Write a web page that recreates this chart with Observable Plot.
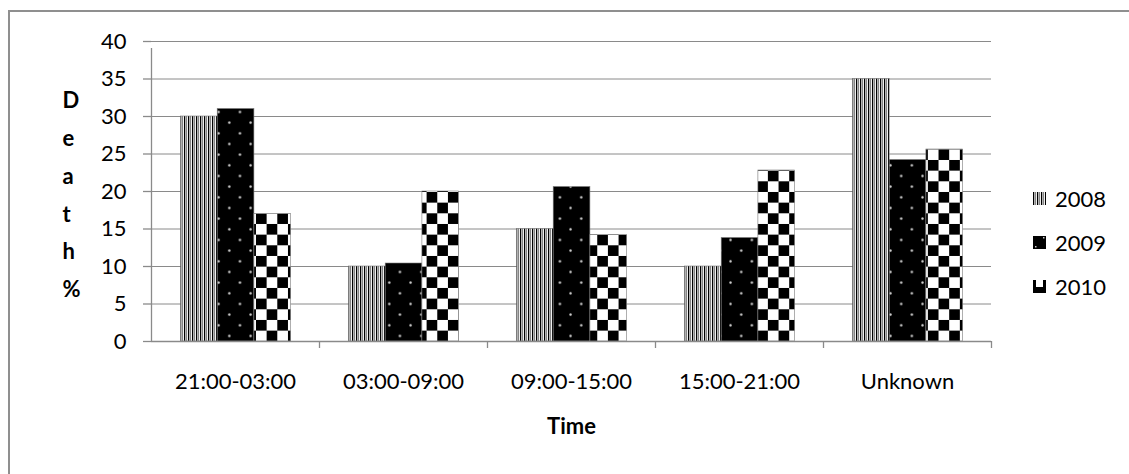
<!DOCTYPE html>
<html>
<head>
<meta charset="utf-8">
<script src="https://cdn.jsdelivr.net/npm/d3@7"></script>
<script src="https://cdn.jsdelivr.net/npm/@observablehq/plot@0.6"></script>
<style>
  html, body { margin: 0; padding: 0; background: #fff; overflow: hidden; }
  #wrap { position: relative; width: 1129px; height: 474px; overflow: hidden; font-family: Lato, "Open Sans", sans-serif; }
  #border { position: absolute; left: 8px; top: 10px; width: 1300px; height: 600px; border-left: 2.5px solid #8f8f8f; border-top: 2px solid #8f8f8f; box-sizing: border-box; }
  #chart { position: absolute; left: 0; top: 0; }
  #legend { position: absolute; left: 1033px; top: 176px; font-size: 22px; color: #000; }
  #legend .item { height: 44px; display: flex; align-items: center; }
  #legend svg { margin-right: 9px; }
</style>
</head>
<body>
<div id="wrap">
  <div id="border"></div>
  <div id="chart"></div>
  <div id="legend"></div>
</div>
<script>
const categories = ["21:00-03:00", "03:00-09:00", "09:00-15:00", "15:00-21:00", "Unknown"];
const years = ["2008", "2009", "2010"];
const v2008 = [30, 10, 15, 10, 35];
const v2009 = [31, 10.4, 20.6, 13.8, 24.2];
const v2010 = [17, 20, 14.2, 22.8, 25.6];
const yTicks = [0, 5, 10, 15, 20, 25, 30, 35, 40];
const yLabel = "Death %";
const xLabel = "Time";

const seriesValues = [v2008, v2009, v2010];
const rows = categories.flatMap((c, i) => years.map((y, j) => ({time: c, year: y, value: seriesValues[j][i]})));
const fills = years.map(y => `url(#p${y})`);

const bw = 36.7, step = 168, start = 29.5;
const barMarks = years.map((y, j) => Plot.barY(rows.filter(d => d.year === y), {
  x: "time", y: "value", fill: "year",
  insetLeft: start + j * bw, insetRight: step - start - (j + 1) * bw,
  stroke: "#7a7a7a", strokeWidth: 0.6
}));

const grid = "#8a8a8a";
const font = "Lato, 'Open Sans', sans-serif";
const svg = Plot.plot({
  width: 1129, height: 474,
  marginLeft: 151, marginRight: 138, marginTop: 41, marginBottom: 133,
  style: {fontFamily: font, fontSize: "22px", color: "#000", background: "transparent"},
  x: {type: "band", domain: categories, padding: 0, label: null},
  y: {domain: [0, 40], ticks: yTicks, label: null},
  color: {type: "ordinal", domain: years, range: fills, legend: false},
  marks: [
    Plot.gridY(yTicks, {stroke: grid, strokeOpacity: 1, strokeWidth: 1}),
    ...barMarks,
    Plot.ruleY([0], {stroke: grid, strokeWidth: 1.3}),
    Plot.ruleX([categories[0]], {x: d => d, y1: 0, y2: 40, dx: -step / 2, insetBottom: -7, stroke: grid, strokeWidth: 1.3}),
    Plot.ruleX(categories, {x: d => d, y1: 0, y2: 0, dx: step / 2, insetBottom: -7, stroke: grid, strokeWidth: 1.3}),
    Plot.axisY(yTicks, {tickSize: 8, tickPadding: 17, stroke: grid, strokeWidth: 1.3, fontSize: 22, fill: "#000"}),
    Plot.axisX({tickSize: 0, tickPadding: 32, fontSize: 22, fill: "#000", label: null}),
    Plot.text([yLabel.split("").filter(c => c !== " ").join("\n")], {frameAnchor: "left", dx: -89, dy: -1, lineHeight: 1.72, fontWeight: "bold", fontSize: 22, fill: "#000"}),
    Plot.text([xLabel], {frameAnchor: "bottom", dy: 92, fontWeight: "bold", fontSize: 22, fill: "#000"})
  ]
});

const NS = "http://www.w3.org/2000/svg";
const defsMarkup = `
<pattern id="p2008" patternUnits="userSpaceOnUse" width="4" height="4">
  <rect width="4" height="4" fill="#fff"/>
  <rect x="0" width="1.3" height="4" fill="#000"/>
  <rect x="2.2" width="0.9" height="4" fill="#666"/>
</pattern>
<pattern id="p2009" patternUnits="userSpaceOnUse" width="21.33" height="21.33">
  <rect width="21.33" height="21.33" fill="#000"/>
  <circle cx="5.33" cy="5.33" r="1.2" fill="#d8d8d8"/>
  <circle cx="16" cy="16" r="1.2" fill="#d8d8d8"/>
</pattern>
<pattern id="p2010" patternUnits="userSpaceOnUse" width="21.33" height="21.33">
  <rect width="21.33" height="21.33" fill="#fff"/>
  <rect x="0" y="0" width="10.67" height="10.67" fill="#000"/>
  <rect x="10.67" y="10.67" width="10.67" height="10.67" fill="#000"/>
</pattern>
<pattern id="s2010" patternUnits="userSpaceOnUse" width="13" height="13">
  <rect width="13" height="13" fill="#fff"/>
  <rect x="0" y="0" width="3" height="13" fill="#000"/>
  <rect x="10" y="0" width="3" height="13" fill="#000"/>
  <rect x="0" y="7" width="13" height="6" fill="#000"/>
</pattern>
<pattern id="s2009" patternUnits="userSpaceOnUse" width="13" height="13">
  <rect width="13" height="13" fill="#000"/>
  <rect x="10" y="1" width="1.5" height="1.5" fill="#ccc"/>
  <rect x="2" y="10" width="1.5" height="1.5" fill="#ccc"/>
</pattern>`;
const defs = document.createElementNS(NS, "defs");
defs.innerHTML = defsMarkup;
svg.insertBefore(defs, svg.firstChild);
document.getElementById("chart").appendChild(svg);

const legend = document.getElementById("legend");
const swatchFill = {"2008": "url(#p2008)", "2009": "url(#s2009)", "2010": "url(#s2010)"};
years.forEach(y => {
  const item = document.createElement("div");
  item.className = "item";
  item.innerHTML = `<svg width="13" height="13"><rect width="13" height="13" fill="${swatchFill[y]}"/></svg><span>${y}</span>`;
  legend.appendChild(item);
});
</script>
</body>
</html>
